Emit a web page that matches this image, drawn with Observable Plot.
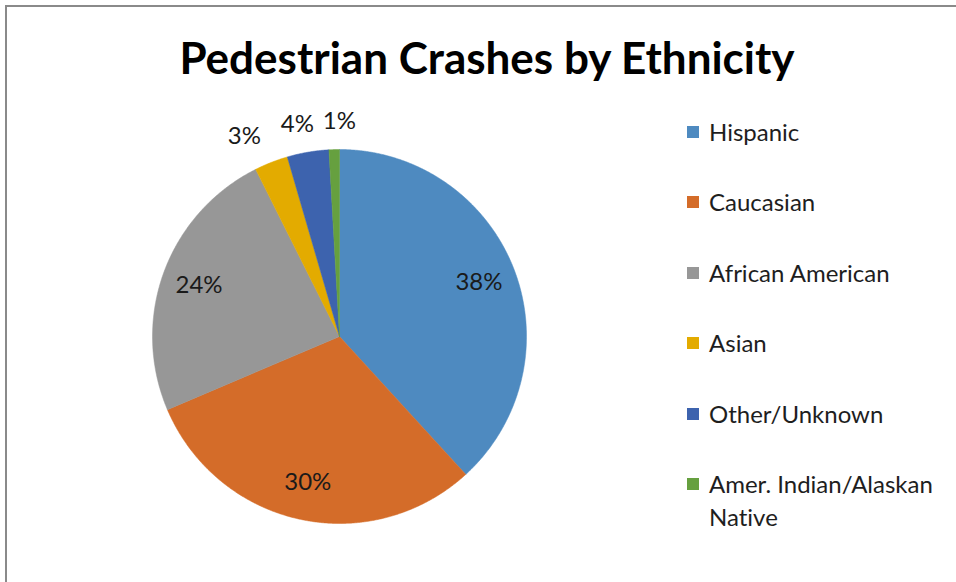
<!DOCTYPE html>
<html><head><meta charset="utf-8">
<script src="https://cdn.jsdelivr.net/npm/d3@7"></script>
<script src="https://cdn.jsdelivr.net/npm/@observablehq/plot@0.6"></script>
<style>
body{margin:0;background:#fff;font-family:Lato,"Open Sans",sans-serif;font-variant-ligatures:none;}
#wrap{position:relative;width:956px;height:582px;overflow:hidden;background:#fff;}
#frame{position:absolute;left:5px;top:5px;width:2000px;height:2000px;border-left:2px solid #8a8a8a;border-top:2px solid #8a8a8a;}
#title{position:absolute;left:487px;top:31px;transform:translateX(-50%);font-weight:700;font-size:44px;line-height:53px;white-space:nowrap;color:#000;}
#chart{position:absolute;left:0;top:0;}
#legend{position:absolute;left:687px;top:0;width:269px;height:582px;}
.item{position:absolute;left:0;width:269px;display:flex;align-items:flex-start;font-size:24px;line-height:33px;color:#1e1e1e;}
.sw{width:12px;height:12px;margin-top:11px;margin-right:10px;flex:none;}
.lt{width:240px;}
</style>
</head><body>
<div id="wrap">
  <div id="frame"></div>
  <div id="title"></div>
  <div id="chart"></div>
  <div id="legend"></div>
</div>
<script>
const title = "Pedestrian Crashes by Ethnicity";
const categories = ["Hispanic","Caucasian","African American","Asian","Other/Unknown","Amer. Indian/Alaskan Native"];
const values = [38.2, 30.4, 24.0, 2.9, 3.6, 0.9];
const labels = ["38%","30%","24%","3%","4%","1%"];
const colors = ["#4e8ac0","#d46c29","#979797","#e3ab00","#3d63ae","#66a03f"];

document.getElementById("title").textContent = title;

const R = 187; // pixel radius, used only for label spacing
const arcs = d3.pie().sort(null).value(d => d)(values);
const slices = [];
arcs.forEach((a, i) => {
  const name = categories[i];
  slices.push({name, x: 0, y: 0});
  const n = Math.max(2, Math.ceil((a.endAngle - a.startAngle) / 0.005));
  for (let k = 0; k <= n; k++) {
    const t = a.startAngle + (a.endAngle - a.startAngle) * k / n;
    slices.push({name, x: Math.sin(t), y: Math.cos(t)});
  }
  slices.push({name, x: 0, y: 0});
});
const lab = arcs.map((a, i) => {
  const m = (a.startAngle + a.endAngle) / 2;
  const outside = values[i] < 10;
  const r = outside ? 1.15 : 0.8;
  return {name: categories[i], text: labels[i], x: r * Math.sin(m), y: r * Math.cos(m), outside, left: Math.sin(m) < -0.3};
});
// simple collision avoidance for the centred outside labels
const outs = lab.filter(d => d.outside && !d.left);
const minGap = 42 / R;
for (let k = 1; k < outs.length; k++) {
  const a = outs[k - 1], b = outs[k];
  const d = b.x - a.x;
  if (d < minGap) { const s = (minGap - d) / 2; a.x -= s; b.x += s; }
}

const plot = Plot.plot({
  width: 956, height: 582,
  margin: 0,
  x: {domain: [-1, 1], range: [152, 526], axis: null},
  y: {domain: [-1, 1], range: [523, 149], axis: null},
  color: {domain: categories, range: colors},
  style: {fontFamily: "Lato, 'Open Sans', sans-serif", background: "transparent", overflow: "visible"},
  marks: [
    Plot.line(slices, {x: "x", y: "y", z: "name", fill: "name", stroke: "name", strokeWidth: 0.5, curve: "linear"}),
    Plot.text(lab.filter(d => !d.outside), {x: "x", y: "y", text: "text", fontSize: 24, fill: "#1a1a1a"}),
    Plot.text(lab.filter(d => d.outside && d.left), {x: "x", y: "y", text: "text", fontSize: 24, fill: "#1a1a1a", textAnchor: "end"}),
    Plot.text(outs, {x: "x", y: "y", text: "text", fontSize: 24, fill: "#1a1a1a"})
  ]
});
document.getElementById("chart").appendChild(plot);

const legend = document.getElementById("legend");
categories.forEach((c, i) => {
  const it = document.createElement("div");
  it.className = "item";
  it.style.top = (131 + i * 70.5 - 16.5) + "px";
  const sw = document.createElement("div");
  sw.className = "sw";
  sw.style.background = colors[i];
  const t = document.createElement("div");
  t.className = "lt";
  t.textContent = c;
  it.appendChild(sw); it.appendChild(t);
  legend.appendChild(it);
});
</script>
</body></html>
